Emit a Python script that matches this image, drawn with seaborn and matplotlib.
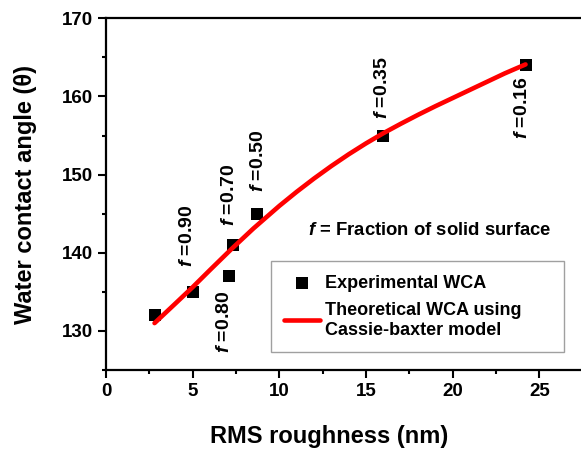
import matplotlib
matplotlib.use("Agg")
import matplotlib.pyplot as plt
import seaborn as sns
import pandas as pd
from matplotlib.ticker import MultipleLocator

# ---- data ----
rms_exp = [2.8, 5.0, 7.1, 7.3, 8.7, 16.0, 24.2]
wca_exp = [132, 135, 137, 141, 145, 155, 164]
fractions = ["0.80", "0.90", "0.80", "0.70", "0.50", "0.35", "0.16"]

rms_theory = [2.8, 4.0, 5.0, 6.0, 7.2, 8.5, 10.0, 11.0, 12.0, 13.0, 14.0, 15.0,
              16.0, 17.0, 18.0, 19.0, 20.0, 21.0, 22.0, 23.0, 24.2]
wca_theory = [131.0, 133.5, 135.6, 137.8, 140.4, 143.1, 146.0, 147.8, 149.5,
              151.1, 152.6, 154.0, 155.3, 156.5, 157.65, 158.75, 159.8, 160.85,
              161.9, 162.95, 164.1]

# annotation labels and where they sit (data coords)
ann_labels = ["0.90", "0.80", "0.70", "0.50", "0.35", "0.16"]
ann_x = [4.73, 6.86, 7.15, 8.77, 15.97, 24.05]
ann_y = [142.2, 131.2, 147.4, 151.8, 161.1, 158.6]

exp_df = pd.DataFrame({"rms": rms_exp, "wca": wca_exp})
th_df = pd.DataFrame({"rms": rms_theory, "wca": wca_theory})

sns.set_theme(style="ticks")
plt.rcParams["font.family"] = ["Liberation Sans", "DejaVu Sans"]
plt.rcParams["font.weight"] = "bold"
plt.rcParams["text.color"] = "black"
plt.rcParams["axes.labelcolor"] = "black"
plt.rcParams["xtick.color"] = "black"
plt.rcParams["ytick.color"] = "black"
plt.rcParams["mathtext.fontset"] = "custom"
plt.rcParams["mathtext.it"] = "Liberation Sans:italic:bold"
plt.rcParams["mathtext.rm"] = "Liberation Sans:bold"

fig = plt.figure(figsize=(5.81, 4.5), dpi=100)
ax = fig.add_axes([106 / 581, 80 / 450, 475 / 581, 351.7 / 450])

sns.scatterplot(data=exp_df, x="rms", y="wca", marker="s", color="black",
                s=85, edgecolor="black", linewidth=0, ax=ax,
                label="Experimental WCA", zorder=2)
sns.lineplot(data=th_df, x="rms", y="wca", color="#ff0000", linewidth=3.3,
             ax=ax, label="Theoretical WCA using\nCassie-baxter model",
             zorder=3)

ax.set_xlim(0, 27.4)
ax.set_ylim(125, 170)
ax.xaxis.set_major_locator(MultipleLocator(5))
ax.xaxis.set_minor_locator(MultipleLocator(2.5))
ax.yaxis.set_major_locator(MultipleLocator(10))
ax.yaxis.set_minor_locator(MultipleLocator(5))
ax.set_yticks([130, 140, 150, 160, 170])

for side in ["left", "bottom", "top"]:
    ax.spines[side].set_linewidth(1.6)
    ax.spines[side].set_color("black")
ax.spines["right"].set_visible(False)

ax.tick_params(which="major", direction="out", length=5.5, width=1.5,
               labelsize=13.5, pad=4, color="black", labelcolor="black")
ax.tick_params(which="minor", direction="out", length=3.2, width=1.5,
               color="black")
ax.tick_params(top=False, right=False, which="both")
for lab in ax.get_xticklabels() + ax.get_yticklabels():
    lab.set_fontweight("bold")

ax.set_xlabel("RMS roughness (nm)", fontsize=17, fontweight="bold", color="black")
ax.set_ylabel("Water contact angle (θ)", fontsize=17, fontweight="bold", color="black")
ax.xaxis.label.set_va("center")
ax.yaxis.label.set_va("center")
ax.xaxis.set_label_coords(0.469, -0.19)
ax.yaxis.set_label_coords(-0.17, 0.5)

for lab, x, y in zip(ann_labels, ann_x, ann_y):
    ax.text(x, y, r"$f$ =" + lab, rotation=90, ha="center", va="center",
            fontsize=14, fontweight="bold", color="black")

ax.text(11.65, 142.8, r"$f$ = Fraction of solid surface", ha="left",
        va="center", fontsize=13.3, fontweight="bold", color="black")

leg = ax.legend(loc="lower left", bbox_to_anchor=(0.347, 0.051, 0.617, 0.256),
                mode="expand", borderaxespad=0, fancybox=False, framealpha=1,
                edgecolor="#a0a0a0", handlelength=2.0,
                handletextpad=0.25, labelspacing=0.55, borderpad=0.75,
                prop={"weight": "bold", "size": 13})
leg.get_frame().set_linewidth(1.0)
for t in leg.get_texts():
    t.set_color("black")

fig.savefig("out.png", dpi=100)
